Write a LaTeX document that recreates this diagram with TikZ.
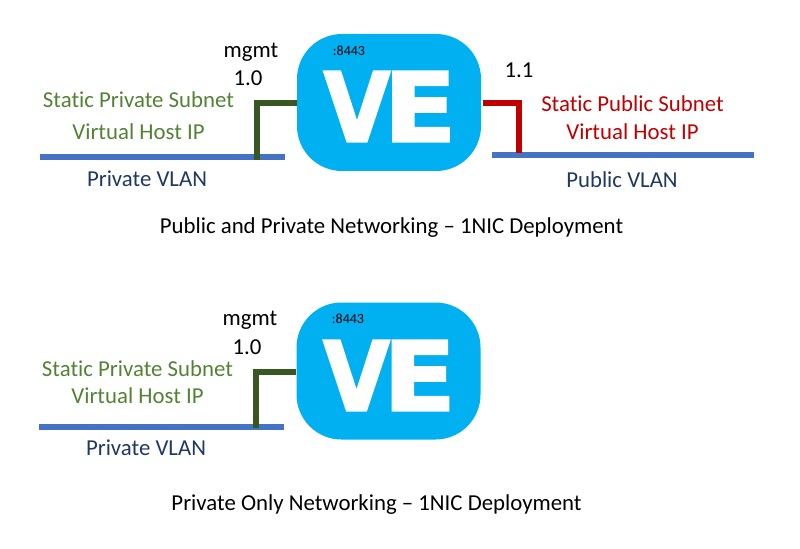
\documentclass[tikz,border=0pt]{standalone}
\usepackage{fontspec}
\setmainfont{Carlito}[Ligatures=NoCommon]
\newfontfamily\logofont{DejaVu Sans Bold}[FakeBold=2.2]
\newcommand{\logoV}{\scalebox{.9}[1]{V}}
\newcommand{\logoE}{\scalebox{1.11}[1]{E}}
\definecolor{veblue}{HTML}{00B0F0}
\definecolor{vlanblue}{HTML}{4472C4}
\definecolor{mgmtgreen}{HTML}{385723}
\definecolor{pubred}{HTML}{C00000}
\definecolor{subgreen}{HTML}{548235}
\definecolor{vlannavy}{HTML}{1F3864}
\tikzset{
  vebox/.style={fill=veblue,draw=none,rounded corners=33.75pt,minimum width=138pt,minimum height=102.75pt,inner sep=0pt},
  velogo/.style={text=white,inner sep=0pt,anchor=base,font=\logofont\fontsize{72}{72}\selectfont},
  lbl/.style={inner sep=0pt,align=center,font=\fontsize{17.1}{20}\selectfont},
  subnet/.style={lbl,text=subgreen},
  pubnet/.style={lbl,text=pubred},
  vlanlbl/.style={lbl,text=vlannavy},
  port/.style={inner sep=0pt,font=\fontsize{17.1}{20}\selectfont},
  portnum/.style={inner sep=0pt,font=\fontsize{10.5}{12}\selectfont},
  vlan/.style={draw=vlanblue,line width=4.5pt},
  greenlink/.style={draw=mgmtgreen,line width=5pt},
  redlink/.style={draw=pubred,line width=5pt},
}
\begin{document}
\begin{tikzpicture}[x=.75pt,y=-.75pt]
\useasboundingbox (0,0) rectangle (800,549);
% top deployment
\coordinate (vl1a) at (40,157.5);
\coordinate (vl1b) at (285,157.5);
\coordinate (vl2a) at (492,155.5);
\coordinate (vl2b) at (754,155.5);
\coordinate (g1) at (257,160);
\coordinate (r1) at (519,153);
\draw[vlan] (vl1a) -- (vl1b);
\draw[vlan] (vl2a) -- (vl2b);
\node[vebox] (ve1) at (389,102.5) {};
\node[velogo] (logo1v) at (357,141.5) {\logoV};
\node[velogo] (logo1e) at (420,141.5) {\logoE};
\draw[greenlink] (ve1.west |- 0,103) -- (g1 |- 0,103) -- (g1);
\coordinate (r0) at (482.7,103);
\draw[redlink] (r0) -- (r1 |- r0) -- (r1);
\node[portnum] (p1) at (349,51) {:8443};
\node[port] (m1) at (251,52) {mgmt};
\node[port] (n1) at (248,78) {1.0};
\node[port] (n2) at (519,70) {1.1};
\node[subnet] (s1) at (138.5,100) {Static Private Subnet};
\node[subnet] (s2) at (138.5,132) {Virtual Host IP};
\node[vlanlbl] (v1) at (147,179) {Private VLAN};
\node[pubnet] (s3) at (632.5,104) {Static Public Subnet};
\node[pubnet] (s4) at (632.5,132) {Virtual Host IP};
\node[vlanlbl] (v2) at (622,180) {Public VLAN};
\node[lbl] (c1) at (391.5,227.5) {Public and Private Networking – 1NIC Deployment};
% bottom deployment
\coordinate (vl3a) at (39,427);
\coordinate (vl3b) at (284,427);
\coordinate (g2) at (256,428);
\draw[vlan] (vl3a) -- (vl3b);
\node[vebox] (ve2) at (388.5,371) {};
\node[velogo] (logo2v) at (356.5,410.5) {\logoV};
\node[velogo] (logo2e) at (419.5,410.5) {\logoE};
\draw[greenlink] (ve2.west |- 0,372) -- (g2 |- 0,372) -- (g2);
\node[portnum] (p2) at (348,319) {:8443};
\node[port] (m2) at (250,320) {mgmt};
\node[port] (n3) at (247,347) {1.0};
\node[subnet] (s5) at (137.5,369) {Static Private Subnet};
\node[subnet] (s6) at (137.5,396) {Virtual Host IP};
\node[vlanlbl] (v3) at (146,448) {Private VLAN};
\node[lbl] (c2) at (376.5,504.5) {Private Only Networking – 1NIC Deployment};
\end{tikzpicture}
\end{document}
